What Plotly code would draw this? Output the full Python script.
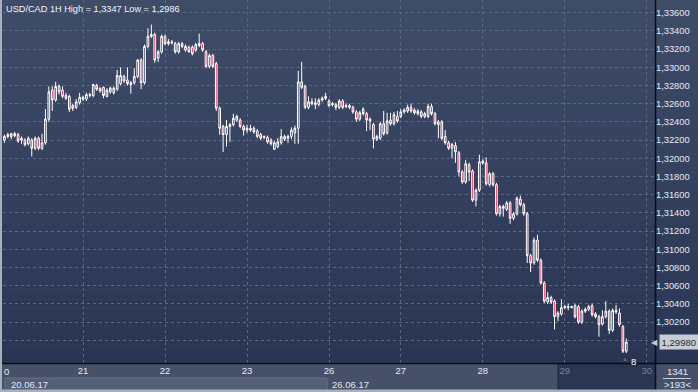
import plotly.graph_objects as go

# ---------------- data (hourly candles, index = hour since 20.06.17 00:00) ----------------
opens = [1.3220,1.3224,1.3224,1.3227,1.3226,1.3220,1.3220,1.3216,1.3220,1.3211,1.3222,1.3211,1.3217,1.3243,1.3275,1.3264,1.3279,1.3275,1.3269,1.3268,
         1.3258,1.3256,1.3261,1.3265,1.3265,1.3269,1.3269,1.3280,1.3277,1.3278,1.3268,1.3273,1.3272,1.3276,1.3282,1.3290,1.3286,1.3281,1.3283,1.3290,
         1.3308,1.3283,1.3323,1.3334,1.3336,1.3310,1.3317,1.3334,1.3326,1.3328,1.3326,1.3317,1.3326,1.3319,1.3322,1.3322,1.3319,1.3324,1.3326,1.3317,
         1.3301,1.3313,1.3304,1.3255,1.3235,1.3226,1.3235,1.3237,1.3242,1.3242,1.3235,1.3231,1.3233,1.3233,1.3230,1.3226,1.3223,1.3223,1.3220,1.3210,
         1.3213,1.3217,1.3224,1.3222,1.3224,1.3228,1.3233,1.3284,1.3279,1.3256,1.3262,1.3259,1.3259,1.3264,1.3268,1.3263,1.3259,1.3259,1.3256,1.3263,
         1.3257,1.3258,1.3256,1.3251,1.3243,1.3254,1.3249,1.3241,1.3237,1.3221,1.3222,1.3238,1.3228,1.3242,1.3238,1.3246,1.3246,1.3251,1.3252,1.3256,
         1.3253,1.3252,1.3251,1.3246,1.3246,1.3257,1.3249,1.3237,1.3240,1.3224,1.3217,1.3211,1.3214,1.3206,1.3185,1.3174,1.3193,1.3186,1.3154,1.3165,
         1.3197,1.3195,1.3171,1.3183,1.3171,1.3139,1.3147,1.3144,1.3151,1.3134,1.3139,1.3155,1.3149,1.3139,1.3093,1.3085,1.3110,1.3088,1.3063,1.3042,
         1.3047,1.3043,1.3026,1.3029,1.3036,1.3036,1.3036,1.3038,1.3037,1.3020,1.3032,1.3034,1.3038,1.3029,1.3026,1.3018,1.3026,1.3032,1.3011,1.3033,
         1.3030,1.3015,1.2988]
highs = [1.3226,1.3228,1.3228,1.3229,1.3228,1.3224,1.3222,1.3224,1.3222,1.3224,1.3224,1.3227,1.3254,1.3279,1.3279,1.3284,1.3281,1.3279,1.3272,1.3270,
         1.3260,1.3265,1.3272,1.3269,1.3272,1.3272,1.3282,1.3282,1.3278,1.3279,1.3277,1.3279,1.3279,1.3297,1.3300,1.3292,1.3300,1.3285,1.3299,1.3309,
         1.3310,1.3325,1.3343,1.3347,1.3338,1.3319,1.3336,1.3336,1.3331,1.3330,1.3328,1.3328,1.3328,1.3325,1.3324,1.3324,1.3327,1.3337,1.3328,1.3319,
         1.3315,1.3315,1.3306,1.3257,1.3237,1.3242,1.3239,1.3249,1.3248,1.3244,1.3237,1.3237,1.3237,1.3235,1.3232,1.3228,1.3225,1.3225,1.3222,1.3219,
         1.3222,1.3232,1.3226,1.3226,1.3234,1.3236,1.3296,1.3306,1.3281,1.3268,1.3266,1.3266,1.3266,1.3268,1.3272,1.3265,1.3262,1.3261,1.3265,1.3265,
         1.3260,1.3260,1.3258,1.3253,1.3252,1.3256,1.3251,1.3245,1.3239,1.3226,1.3240,1.3252,1.3250,1.3250,1.3251,1.3252,1.3254,1.3255,1.3259,1.3260,
         1.3255,1.3254,1.3253,1.3251,1.3260,1.3260,1.3251,1.3242,1.3242,1.3231,1.3219,1.3217,1.3218,1.3208,1.3187,1.3198,1.3195,1.3188,1.3167,1.3204,
         1.3199,1.3201,1.3185,1.3185,1.3173,1.3149,1.3149,1.3153,1.3153,1.3141,1.3158,1.3159,1.3151,1.3141,1.3095,1.3113,1.3116,1.3090,1.3065,1.3053,
         1.3049,1.3045,1.3032,1.3045,1.3039,1.3040,1.3038,1.3040,1.3039,1.3034,1.3036,1.3039,1.3040,1.3031,1.3028,1.3033,1.3043,1.3034,1.3035,1.3039,
         1.3035,1.3017,1.3002]
lows = [1.3217,1.3222,1.3221,1.3223,1.3217,1.3216,1.3213,1.3214,1.3202,1.3209,1.3209,1.3209,1.3215,1.3240,1.3252,1.3262,1.3270,1.3266,1.3264,1.3251,
        1.3252,1.3254,1.3259,1.3263,1.3263,1.3267,1.3267,1.3274,1.3272,1.3266,1.3267,1.3271,1.3270,1.3274,1.3280,1.3283,1.3280,1.3271,1.3281,1.3288,
        1.3276,1.3281,1.3321,1.3332,1.3305,1.3306,1.3315,1.3324,1.3324,1.3325,1.3315,1.3315,1.3321,1.3317,1.3316,1.3313,1.3317,1.3322,1.3317,1.3299,
        1.3299,1.3299,1.3252,1.3226,1.3207,1.3213,1.3218,1.3235,1.3240,1.3233,1.3225,1.3228,1.3229,1.3227,1.3222,1.3220,1.3221,1.3216,1.3214,1.3209,
        1.3211,1.3215,1.3219,1.3217,1.3221,1.3216,1.3216,1.3276,1.3254,1.3254,1.3258,1.3254,1.3257,1.3262,1.3264,1.3256,1.3257,1.3253,1.3254,1.3254,
        1.3255,1.3254,1.3249,1.3240,1.3241,1.3247,1.3230,1.3231,1.3211,1.3219,1.3220,1.3225,1.3226,1.3236,1.3236,1.3239,1.3244,1.3249,1.3250,1.3250,
        1.3248,1.3247,1.3244,1.3244,1.3244,1.3247,1.3236,1.3222,1.3220,1.3215,1.3209,1.3200,1.3195,1.3180,1.3172,1.3172,1.3175,1.3152,1.3147,1.3163,
        1.3193,1.3170,1.3169,1.3169,1.3137,1.3136,1.3136,1.3142,1.3128,1.3132,1.3137,1.3147,1.3137,1.3085,1.3075,1.3083,1.3086,1.3061,1.3041,1.3040,
        1.3040,1.3012,1.3021,1.3027,1.3034,1.3033,1.3035,1.3024,1.3018,1.3018,1.3030,1.3032,1.3026,1.3024,1.3004,1.3016,1.3024,1.3007,1.3009,1.3029,
        1.3015,1.2986,1.2986]
closes = [1.3224,1.3226,1.3227,1.3225,1.3219,1.3222,1.3215,1.3222,1.3211,1.3222,1.3211,1.3217,1.3243,1.3273,1.3264,1.3279,1.3273,1.3268,1.3266,1.3254,
          1.3255,1.3262,1.3267,1.3267,1.3270,1.3270,1.3281,1.3276,1.3274,1.3269,1.3275,1.3277,1.3277,1.3291,1.3291,1.3285,1.3282,1.3283,1.3290,1.3308,
          1.3283,1.3323,1.3334,1.3336,1.3308,1.3317,1.3334,1.3326,1.3328,1.3327,1.3317,1.3326,1.3323,1.3323,1.3317,1.3315,1.3325,1.3326,1.3319,1.3301,
          1.3313,1.3301,1.3255,1.3233,1.3226,1.3235,1.3237,1.3244,1.3246,1.3235,1.3231,1.3233,1.3231,1.3229,1.3224,1.3222,1.3224,1.3218,1.3216,1.3217,
          1.3218,1.3224,1.3221,1.3224,1.3231,1.3233,1.3284,1.3278,1.3256,1.3262,1.3260,1.3261,1.3264,1.3266,1.3266,1.3258,1.3260,1.3256,1.3263,1.3256,
          1.3258,1.3256,1.3251,1.3243,1.3250,1.3249,1.3242,1.3243,1.3221,1.3224,1.3238,1.3227,1.3241,1.3238,1.3248,1.3241,1.3251,1.3253,1.3256,1.3252,
          1.3250,1.3249,1.3246,1.3249,1.3257,1.3249,1.3238,1.3240,1.3222,1.3217,1.3211,1.3215,1.3207,1.3185,1.3174,1.3194,1.3185,1.3154,1.3165,1.3196,
          1.3195,1.3172,1.3183,1.3171,1.3139,1.3147,1.3145,1.3151,1.3134,1.3139,1.3156,1.3149,1.3139,1.3093,1.3085,1.3110,1.3088,1.3063,1.3043,1.3047,
          1.3042,1.3026,1.3030,1.3036,1.3037,1.3037,1.3037,1.3026,1.3020,1.3032,1.3034,1.3037,1.3028,1.3026,1.3017,1.3026,1.3032,1.3011,1.3033,1.3031,
          1.3017,1.2988,1.2998]
hours = list(range(1, len(closes) + 1))

day_ticks = [24, 48, 72, 96, 117, 141, 165, 189]
day_labels = ["21", "22", "23", "26", "27", "28", "29", "30"]
price_ticks = [1.300, 1.302, 1.304, 1.306, 1.308, 1.310, 1.312, 1.314, 1.316, 1.318,
               1.320, 1.322, 1.324, 1.326, 1.328, 1.330, 1.332, 1.334, 1.336]

# ---------------- styling ----------------
FONT = "Liberation Sans, Arial, sans-serif"
TXT = "#e4e9f3"
DIM = "#76819a"
RED = "#e3143f"
GRID = "#5a6783"

tick_text_x = []
for lab in day_labels:
    if lab in ("29", "30"):
        tick_text_x.append("<span style='color:%s'>%s</span>" % (DIM, lab))
    else:
        tick_text_x.append(lab)
tick_text_y = [("%.5f" % v).replace(".", ",") if v > 1.3005 else "" for v in price_ticks]

fig = go.Figure()
fig.add_trace(go.Candlestick(
    x=hours, open=opens, high=highs, low=lows, close=closes,
    increasing=dict(line=dict(color="#ffffff", width=1), fillcolor="rgba(0,0,0,0)"),
    decreasing=dict(line=dict(color="#ffffff", width=1), fillcolor=RED),
    whiskerwidth=0, hoverinfo="skip", showlegend=False,
))

W, H = 698, 392
L, R, T, B = 3, 43, 0, 29
pw, ph = W - L - R, H - T - B


def px(xp):
    return (xp - L) / pw


def py(yp):
    return (T + ph - yp) / ph


shapes = []
# gradient background for chart + right axis panel
N = 40
top = (63, 76, 104)
bot = (41, 53, 83)
for k in range(N):
    f = k / (N - 1)
    c = tuple(int(round(top[j] + (bot[j] - top[j]) * f)) for j in range(3))
    shapes.append(dict(type="rect", xref="paper", yref="paper", layer="below",
                       x0=px(0), x1=px(W), y0=1 - (k + 1) / N, y1=1 - k / N,
                       fillcolor="rgb(%d,%d,%d)" % c, line=dict(width=0)))
# bottom strip
shapes.append(dict(type="rect", xref="paper", yref="paper", layer="below",
                   x0=px(0), x1=px(W), y0=py(H), y1=py(363.5),
                   fillcolor="#465169", line=dict(width=0)))
# dark region for the current days
shapes.append(dict(type="rect", xref="paper", yref="paper", layer="below",
                   x0=px(558), x1=px(655), y0=py(391), y1=py(363.5),
                   fillcolor="#2b3653", line=dict(width=0)))
shapes.append(dict(type="line", xref="paper", yref="paper", layer="below",
                   x0=px(558), x1=px(558), y0=py(391), y1=py(364),
                   line=dict(color="#1c2438", width=1)))
# date box
shapes.append(dict(type="rect", xref="paper", yref="paper", layer="below",
                   x0=px(5), x1=px(327), y0=py(390.5), y1=py(378),
                   fillcolor="#535e77", line=dict(color="#66718b", width=1)))
# black separators
shapes.append(dict(type="line", xref="paper", yref="paper", layer="above",
                   x0=px(655.5), x1=px(655.5), y0=py(H), y1=py(0),
                   line=dict(color="#0b0e16", width=1.5)))
shapes.append(dict(type="line", xref="paper", yref="paper", layer="above",
                   x0=px(0), x1=px(W), y0=py(363.5), y1=py(363.5),
                   line=dict(color="#0b0e16", width=1.5)))
# light outer border left / bottom
shapes.append(dict(type="rect", xref="paper", yref="paper", layer="above",
                   x0=px(0), x1=px(2), y0=py(H), y1=py(0),
                   fillcolor="#a9afbc", line=dict(width=0)))
shapes.append(dict(type="rect", xref="paper", yref="paper", layer="above",
                   x0=px(0), x1=px(W), y0=py(H), y1=py(389.5),
                   fillcolor="#a9afbc", line=dict(width=0)))
# rule between counters
shapes.append(dict(type="line", xref="paper", yref="paper", layer="above",
                   x0=px(663), x1=px(691), y0=py(378.5), y1=py(378.5),
                   line=dict(color="#c8cfdc", width=1)))

last = closes[-1]
annotations = [
    dict(text="USD/CAD 1H High = %s Low = %s" % (("%.4f" % max(highs)).replace(".", ","),
                                                  ("%.4f" % min(lows)).replace(".", ",")),
         xref="paper", yref="paper", x=px(4), y=py(2), xanchor="left", yanchor="top",
         showarrow=False, font=dict(family=FONT, size=9.2, color="#f2f4f8")),
    dict(text="0", xref="paper", yref="paper", x=px(6), y=py(372), xanchor="center", yanchor="middle",
         showarrow=False, font=dict(family=FONT, size=9.5, color=TXT)),
    dict(text="20.06.17", xref="paper", yref="paper", x=px(9), y=py(384), xanchor="left", yanchor="middle",
         showarrow=False, font=dict(family=FONT, size=9.5, color=TXT)),
    dict(text="26.06.17", xref="paper", yref="paper", x=px(330), y=py(384), xanchor="left", yanchor="middle",
         showarrow=False, font=dict(family=FONT, size=9.5, color=TXT)),
    dict(text="1341", xref="paper", yref="paper", x=px(677), y=py(371), xanchor="center", yanchor="middle",
         showarrow=False, font=dict(family=FONT, size=9.5, color=TXT)),
    dict(text="&gt;193&lt;", xref="paper", yref="paper", x=px(677), y=py(384.5), xanchor="center", yanchor="middle",
         showarrow=False, font=dict(family=FONT, size=9.5, color=TXT)),
    dict(text=("%.5f" % last).replace(".", ","), xref="paper", yref="y", x=px(659), y=last,
         xanchor="left", yanchor="middle", showarrow=False, bgcolor="#c8ccd3", borderpad=1.5,
         font=dict(family=FONT, size=9.6, color="#262e40")),
    dict(text="◀", xref="paper", yref="y", x=px(660), y=last, xanchor="right", yanchor="middle",
         showarrow=False, font=dict(family=FONT, size=8, color="#c8ccd3")),
    dict(text="8", xref="x", yref="y", x=hours[-1] + 2.2, y=min(lows), xanchor="center", yanchor="top",
         yshift=-1, showarrow=False, font=dict(family=FONT, size=9.5, color="#ffffff")),
    dict(text="▲", xref="x", yref="y", x=hours[-1] - 0.5, y=min(lows), xanchor="center", yanchor="top",
         yshift=-1, showarrow=False, font=dict(family=FONT, size=6, color="#5d6880")),
]

fig.update_layout(
    width=W, height=H,
    margin=dict(l=L, r=R, t=T, b=B, pad=0),
    paper_bgcolor="#465169",
    plot_bgcolor="rgba(0,0,0,0)",
    boxgap=0.3,
    shapes=shapes,
    annotations=annotations,
    showlegend=False,
    font=dict(family=FONT, size=9.5, color=TXT),
    xaxis=dict(range=[0.585, 191.4], tickvals=day_ticks, ticktext=tick_text_x,
               showgrid=True, gridcolor=GRID, gridwidth=1, griddash="3px,3px",
               zeroline=False, showline=False, ticks="", rangeslider=dict(visible=False),
               tickfont=dict(family=FONT, size=9.5, color=TXT), fixedrange=True),
    yaxis=dict(range=[1.297505, 1.337396], side="right", tickvals=price_ticks, ticktext=tick_text_y,
               showgrid=True, gridcolor=GRID, gridwidth=1, griddash="3px,3px",
               zeroline=False, showline=False, ticks="",
               tickfont=dict(family=FONT, size=9.3, color=TXT), fixedrange=True),
)

fig.write_html("out.html")
